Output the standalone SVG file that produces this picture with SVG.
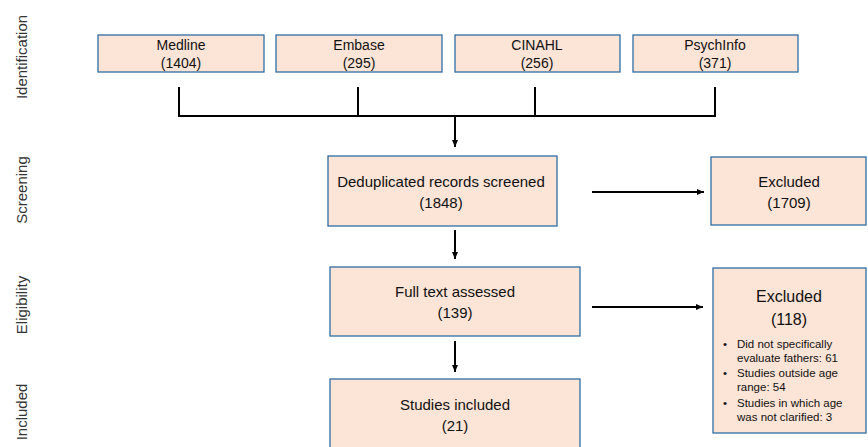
<svg xmlns="http://www.w3.org/2000/svg" width="868" height="447" viewBox="0 0 868 447">
<style>
.box{fill:#FCE4D6;stroke:#2E6DA4;stroke-width:1.3}
text{font-family:"Liberation Sans",Arial,sans-serif;fill:#111}
.t14{font-size:14px;text-anchor:middle}
.t15{font-size:15px;text-anchor:middle}
.t11{font-size:11.5px}
.side{font-size:15px;text-anchor:middle;fill:#333}
.ln{stroke:#000;stroke-width:2;fill:none}
</style>
<defs>
<marker id="ah" markerWidth="8" markerHeight="8" refX="7" refY="4" orient="auto" markerUnits="userSpaceOnUse">
<path d="M0,1 L7,4 L0,7 Z" fill="#000"/>
</marker>
</defs>
<g id="labels">
<text class="side" transform="translate(27,57) rotate(-90)">Identification</text>
<text class="side" transform="translate(27,190) rotate(-90)">Screening</text>
<text class="side" transform="translate(27,305) rotate(-90)">Eligibility</text>
<text class="side" transform="translate(27,412) rotate(-90)">Included</text>
</g>
<g id="medline"><rect class="box" x="98" y="35" width="166" height="37"/><text class="t14" x="181" y="50">Medline</text><text class="t14" x="181" y="68">(1404)</text></g>
<g id="embase"><rect class="box" x="276" y="35" width="166" height="37"/><text class="t14" x="359" y="50">Embase</text><text class="t14" x="359" y="68">(295)</text></g>
<g id="cinahl"><rect class="box" x="455" y="35" width="165" height="37"/><text class="t14" x="537" y="50">CINAHL</text><text class="t14" x="537" y="68">(256)</text></g>
<g id="psychinfo"><rect class="box" x="633" y="35" width="165" height="37"/><text class="t14" x="715" y="50">PsychInfo</text><text class="t14" x="715" y="68">(371)</text></g>
<g id="screened"><rect class="box" x="328" y="156" width="229" height="70"/><text class="t15" x="441" y="187">Deduplicated records screened</text><text class="t15" x="441" y="208">(1848)</text></g>
<g id="excluded1"><rect class="box" x="711" y="157" width="155" height="68"/><text class="t15" x="789" y="187">Excluded</text><text class="t15" x="789" y="208">(1709)</text></g>
<g id="fulltext"><rect class="box" x="330" y="267" width="250" height="69"/><text class="t15" x="455" y="297">Full text assessed</text><text class="t15" x="455" y="318">(139)</text></g>
<g id="excluded2"><rect class="box" x="713" y="268" width="153" height="165"/><text class="t15" x="789" y="302" style="font-size:16px">Excluded</text><text class="t15" x="789" y="325" style="font-size:16px">(118)</text>
<text class="t11" x="723" y="348">•</text><text class="t11" x="737" y="348">Did not specifically</text><text class="t11" x="737" y="362">evaluate fathers: 61</text>
<text class="t11" x="723" y="377">•</text><text class="t11" x="737" y="377">Studies outside age</text><text class="t11" x="737" y="391">range: 54</text>
<text class="t11" x="723" y="407">•</text><text class="t11" x="737" y="407">Studies in which age</text><text class="t11" x="737" y="421">was not clarified: 3</text>
</g>
<g id="included"><rect class="box" x="330" y="379" width="250" height="80"/><text class="t15" x="455" y="410">Studies included</text><text class="t15" x="455" y="431">(21)</text></g>
<g id="connectors">
<path class="ln" d="M179,87 V116 H715 V87 M358,87 V116 M535,87 V116"/>
<line class="ln" x1="455" y1="116" x2="455" y2="147" marker-end="url(#ah)"/>
<line class="ln" x1="455" y1="230" x2="455" y2="259" marker-end="url(#ah)"/>
<line class="ln" x1="455" y1="341" x2="455" y2="372" marker-end="url(#ah)"/>
<line class="ln" x1="592" y1="192" x2="704" y2="192" marker-end="url(#ah)"/>
<line class="ln" x1="592" y1="307" x2="703" y2="307" marker-end="url(#ah)"/>
</g>
</svg>
